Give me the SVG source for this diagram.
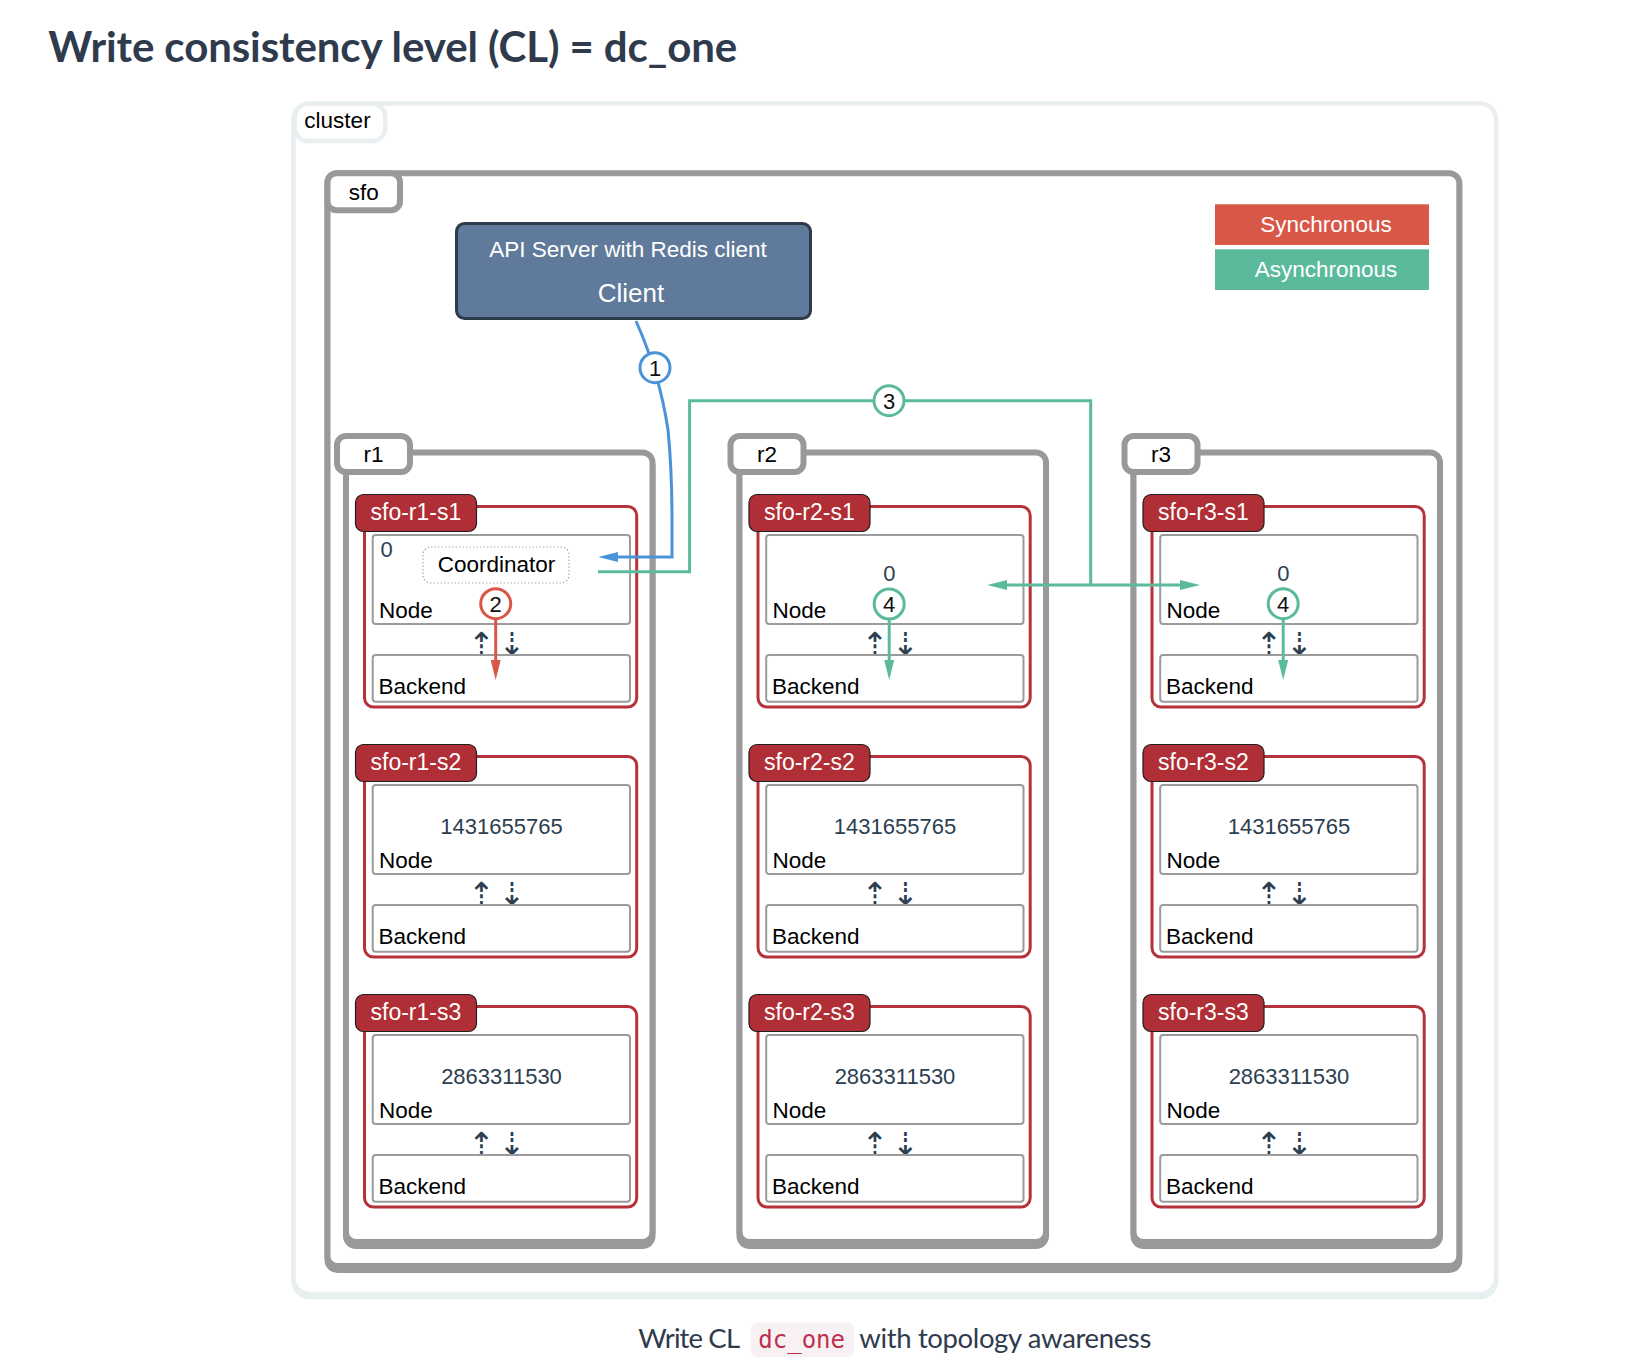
<svg xmlns="http://www.w3.org/2000/svg" width="1646" height="1372" viewBox="0 0 1646 1372">
<defs>
<style>
.title{font-family:Lato,"Liberation Sans",sans-serif;font-weight:bold;font-size:42px;fill:#2f3b4c}
.cap{font-family:Lato,"Liberation Sans",sans-serif;font-size:27.5px;fill:#2f3b4c}
.mono{font-family:"DejaVu Sans Mono","Liberation Mono",monospace;font-size:24px;fill:#bd3050}
.lbl{font-family:"Liberation Sans",Arial,sans-serif;font-size:22.5px;fill:#000}
.num{font-family:"Liberation Sans",Arial,sans-serif;font-size:22px;fill:#2c3e50}
.wt{font-family:"Liberation Sans",Arial,sans-serif;font-size:22.5px;fill:#fff}
.tt{font-family:"Liberation Sans",Arial,sans-serif;font-size:23px;fill:#fff}
.darr{font-family:"DejaVu Sans",sans-serif;font-size:32px;fill:#2c3e50}
.cl{fill:#fff;stroke:#e9eef0;stroke-width:4.5}
.gb{fill:#fff;stroke:#999;stroke-width:6}
.gs{fill:none;stroke:#999;stroke-width:6}
.sb{fill:#fff;stroke:#b5323a;stroke-width:3}
.st{fill:#b02e35;stroke:#1f1f1f;stroke-width:1.2}
.in{fill:#fff;stroke:#9b9b9b;stroke-width:2}
.blue{fill:none;stroke:#4a93d9;stroke-width:3}
.green{fill:none;stroke:#5bba9c;stroke-width:3}
.red{fill:none;stroke:#d95747;stroke-width:3}
.bdg{fill:#fff;stroke-width:3}
.bt{font-family:"Liberation Sans",Arial,sans-serif;font-size:22px;fill:#111;text-anchor:middle}
</style>
<marker id="ab" markerUnits="userSpaceOnUse" markerWidth="20" markerHeight="10" refX="3" refY="5" orient="auto-start-reverse"><path d="M0,0 L20,5 L0,10 z" fill="#4a93d9"/></marker>
<marker id="ag" markerUnits="userSpaceOnUse" markerWidth="20" markerHeight="10" refX="3" refY="5" orient="auto-start-reverse"><path d="M0,0 L20,5 L0,10 z" fill="#5bba9c"/></marker>
<marker id="ar" markerUnits="userSpaceOnUse" markerWidth="20" markerHeight="10" refX="3" refY="5" orient="auto-start-reverse"><path d="M0,0 L20,5 L0,10 z" fill="#d95747"/></marker>
</defs>
<rect width="1646" height="1372" fill="#fff"/>
<text class="title" x="48.3" y="61.7" textLength="689" lengthAdjust="spacing">Write consistency level (CL) = dc_one</text>

<g id="cluster">
<rect class="cl" x="293.5" y="106.5" width="1202.5" height="1190.5" rx="16"/>
<rect class="cl" x="293.5" y="103.5" width="1202.5" height="1190.5" rx="16"/>
<rect class="cl" x="294.8" y="104" width="90.5" height="37" rx="13"/>
<text class="lbl" x="337.5" y="128.3" text-anchor="middle">cluster</text>
</g>

<g id="sfo">
<rect class="gs" x="327.5" y="177.3" width="1131.8" height="1092.7" rx="10"/>
<rect class="gb" x="327.5" y="173.3" width="1131.8" height="1092.7" rx="10"/>
<rect class="gb" x="327.5" y="173.3" width="72.5" height="37" rx="9"/>
<text class="lbl" x="363.7" y="200" text-anchor="middle">sfo</text>
</g>

<g id="client">
<rect x="456.5" y="223.5" width="354" height="95" rx="8" fill="#5f7a9b" stroke="#2c3a4b" stroke-width="3"/>
<text class="wt" x="628" y="257.3" text-anchor="middle">API Server with Redis client</text>
<text x="631" y="302.3" text-anchor="middle" font-family="Liberation Sans, Arial, sans-serif" font-size="26" fill="#fff">Client</text>
</g>

<g id="legend">
<rect x="1215" y="204.3" width="214" height="40.7" fill="#d95747"/>
<text class="wt" x="1326" y="231.7" text-anchor="middle">Synchronous</text>
<rect x="1215" y="249.3" width="214" height="40.7" fill="#5bba9c"/>
<text class="wt" x="1326" y="276.7" text-anchor="middle">Asynchronous</text>
</g>

<g id="r1">
<rect class="gs" x="346" y="456.5" width="306.5" height="789.5" rx="10"/>
<rect class="gb" x="346" y="452.5" width="306.5" height="789.5" rx="10"/>
<rect class="gb" x="337" y="436" width="73" height="36" rx="9"/>
<text class="lbl" x="373.5" y="461.7" text-anchor="middle">r1</text>
</g>
<g id="r2" transform="translate(393.5,0)">
<rect class="gs" x="346" y="456.5" width="306.5" height="789.5" rx="10"/>
<rect class="gb" x="346" y="452.5" width="306.5" height="789.5" rx="10"/>
<rect class="gb" x="337" y="436" width="73" height="36" rx="9"/>
<text class="lbl" x="373.5" y="461.7" text-anchor="middle">r2</text>
</g>
<g id="r3" transform="translate(787.5,0)">
<rect class="gs" x="346" y="456.5" width="306.5" height="789.5" rx="10"/>
<rect class="gb" x="346" y="452.5" width="306.5" height="789.5" rx="10"/>
<rect class="gb" x="337" y="436" width="73" height="36" rx="9"/>
<text class="lbl" x="373.5" y="461.7" text-anchor="middle">r3</text>
</g>

<g id="sfo-r1-s1">
<rect class="sb" x="364.5" y="506.5" width="272.2" height="200.5" rx="9"/>
<rect class="st" x="355.5" y="494.5" width="121" height="37" rx="8"/>
<text class="tt" x="370.5" y="519.5">sfo-r1-s1</text>
<rect class="in" x="372.7" y="535" width="257.3" height="89" rx="3"/>
<text class="num" x="380.5" y="557.3">0</text>
<rect x="423" y="547" width="146" height="36" rx="8" fill="#fff" stroke="#aaa" stroke-width="1.2" stroke-dasharray="1.5 2"/>
<text class="lbl" x="496.5" y="571.7" text-anchor="middle">Coordinator</text>
<text class="lbl" x="379" y="617.5">Node</text>
<text class="darr" x="481.5" y="655" text-anchor="middle">⇡</text>
<text class="darr" x="512" y="655" text-anchor="middle">⇣</text>
<rect class="in" x="372.7" y="655" width="257.3" height="46.7" rx="3"/>
<text class="lbl" x="378.5" y="693.5">Backend</text>
</g>
<g id="sfo-r1-s2" transform="translate(0,250)">
<rect class="sb" x="364.5" y="506.5" width="272.2" height="200.5" rx="9"/>
<rect class="st" x="355.5" y="494.5" width="121" height="37" rx="8"/>
<text class="tt" x="370.5" y="519.5">sfo-r1-s2</text>
<rect class="in" x="372.7" y="535" width="257.3" height="89" rx="3"/>
<text class="num" x="501.5" y="583.5" text-anchor="middle">1431655765</text>
<text class="lbl" x="379" y="617.5">Node</text>
<text class="darr" x="481.5" y="655" text-anchor="middle">⇡</text>
<text class="darr" x="512" y="655" text-anchor="middle">⇣</text>
<rect class="in" x="372.7" y="655" width="257.3" height="46.7" rx="3"/>
<text class="lbl" x="378.5" y="693.5">Backend</text>
</g>
<g id="sfo-r1-s3" transform="translate(0,500)">
<rect class="sb" x="364.5" y="506.5" width="272.2" height="200.5" rx="9"/>
<rect class="st" x="355.5" y="494.5" width="121" height="37" rx="8"/>
<text class="tt" x="370.5" y="519.5">sfo-r1-s3</text>
<rect class="in" x="372.7" y="535" width="257.3" height="89" rx="3"/>
<text class="num" x="501.5" y="583.5" text-anchor="middle">2863311530</text>
<text class="lbl" x="379" y="617.5">Node</text>
<text class="darr" x="481.5" y="655" text-anchor="middle">⇡</text>
<text class="darr" x="512" y="655" text-anchor="middle">⇣</text>
<rect class="in" x="372.7" y="655" width="257.3" height="46.7" rx="3"/>
<text class="lbl" x="378.5" y="693.5">Backend</text>
</g>

<g id="sfo-r2-s1" transform="translate(393.5,0)">
<rect class="sb" x="364.5" y="506.5" width="272.2" height="200.5" rx="9"/>
<rect class="st" x="355.5" y="494.5" width="121" height="37" rx="8"/>
<text class="tt" x="370.5" y="519.5">sfo-r2-s1</text>
<rect class="in" x="372.7" y="535" width="257.3" height="89" rx="3"/>
<text class="num" x="495.8" y="580.7" text-anchor="middle">0</text>
<text class="lbl" x="379" y="617.5">Node</text>
<text class="darr" x="481.5" y="655" text-anchor="middle">⇡</text>
<text class="darr" x="512" y="655" text-anchor="middle">⇣</text>
<rect class="in" x="372.7" y="655" width="257.3" height="46.7" rx="3"/>
<text class="lbl" x="378.5" y="693.5">Backend</text>
</g>
<g id="sfo-r2-s2" transform="translate(393.5,250)">
<rect class="sb" x="364.5" y="506.5" width="272.2" height="200.5" rx="9"/>
<rect class="st" x="355.5" y="494.5" width="121" height="37" rx="8"/>
<text class="tt" x="370.5" y="519.5">sfo-r2-s2</text>
<rect class="in" x="372.7" y="535" width="257.3" height="89" rx="3"/>
<text class="num" x="501.5" y="583.5" text-anchor="middle">1431655765</text>
<text class="lbl" x="379" y="617.5">Node</text>
<text class="darr" x="481.5" y="655" text-anchor="middle">⇡</text>
<text class="darr" x="512" y="655" text-anchor="middle">⇣</text>
<rect class="in" x="372.7" y="655" width="257.3" height="46.7" rx="3"/>
<text class="lbl" x="378.5" y="693.5">Backend</text>
</g>
<g id="sfo-r2-s3" transform="translate(393.5,500)">
<rect class="sb" x="364.5" y="506.5" width="272.2" height="200.5" rx="9"/>
<rect class="st" x="355.5" y="494.5" width="121" height="37" rx="8"/>
<text class="tt" x="370.5" y="519.5">sfo-r2-s3</text>
<rect class="in" x="372.7" y="535" width="257.3" height="89" rx="3"/>
<text class="num" x="501.5" y="583.5" text-anchor="middle">2863311530</text>
<text class="lbl" x="379" y="617.5">Node</text>
<text class="darr" x="481.5" y="655" text-anchor="middle">⇡</text>
<text class="darr" x="512" y="655" text-anchor="middle">⇣</text>
<rect class="in" x="372.7" y="655" width="257.3" height="46.7" rx="3"/>
<text class="lbl" x="378.5" y="693.5">Backend</text>
</g>

<g id="sfo-r3-s1" transform="translate(787.5,0)">
<rect class="sb" x="364.5" y="506.5" width="272.2" height="200.5" rx="9"/>
<rect class="st" x="355.5" y="494.5" width="121" height="37" rx="8"/>
<text class="tt" x="370.5" y="519.5">sfo-r3-s1</text>
<rect class="in" x="372.7" y="535" width="257.3" height="89" rx="3"/>
<text class="num" x="495.8" y="580.7" text-anchor="middle">0</text>
<text class="lbl" x="379" y="617.5">Node</text>
<text class="darr" x="481.5" y="655" text-anchor="middle">⇡</text>
<text class="darr" x="512" y="655" text-anchor="middle">⇣</text>
<rect class="in" x="372.7" y="655" width="257.3" height="46.7" rx="3"/>
<text class="lbl" x="378.5" y="693.5">Backend</text>
</g>
<g id="sfo-r3-s2" transform="translate(787.5,250)">
<rect class="sb" x="364.5" y="506.5" width="272.2" height="200.5" rx="9"/>
<rect class="st" x="355.5" y="494.5" width="121" height="37" rx="8"/>
<text class="tt" x="370.5" y="519.5">sfo-r3-s2</text>
<rect class="in" x="372.7" y="535" width="257.3" height="89" rx="3"/>
<text class="num" x="501.5" y="583.5" text-anchor="middle">1431655765</text>
<text class="lbl" x="379" y="617.5">Node</text>
<text class="darr" x="481.5" y="655" text-anchor="middle">⇡</text>
<text class="darr" x="512" y="655" text-anchor="middle">⇣</text>
<rect class="in" x="372.7" y="655" width="257.3" height="46.7" rx="3"/>
<text class="lbl" x="378.5" y="693.5">Backend</text>
</g>
<g id="sfo-r3-s3" transform="translate(787.5,500)">
<rect class="sb" x="364.5" y="506.5" width="272.2" height="200.5" rx="9"/>
<rect class="st" x="355.5" y="494.5" width="121" height="37" rx="8"/>
<text class="tt" x="370.5" y="519.5">sfo-r3-s3</text>
<rect class="in" x="372.7" y="535" width="257.3" height="89" rx="3"/>
<text class="num" x="501.5" y="583.5" text-anchor="middle">2863311530</text>
<text class="lbl" x="379" y="617.5">Node</text>
<text class="darr" x="481.5" y="655" text-anchor="middle">⇡</text>
<text class="darr" x="512" y="655" text-anchor="middle">⇣</text>
<rect class="in" x="372.7" y="655" width="257.3" height="46.7" rx="3"/>
<text class="lbl" x="378.5" y="693.5">Backend</text>
</g>

<g id="connectors">
<path class="blue" d="M636,321 Q660,375 668,430 Q672,470 672,520 L672,557 L615.3,557" marker-end="url(#ab)"/>
<path class="green" d="M598,571.7 L689.6,571.7 L689.6,400.7 L1090.7,400.7 L1090.7,585"/>
<path class="green" d="M1004.3,585 L1183,585" marker-start="url(#ag)" marker-end="url(#ag)"/>
<path class="red" d="M495.7,619 L495.7,663" marker-end="url(#ar)"/>
<path class="green" d="M889.2,619 L889.2,663" marker-end="url(#ag)"/>
<path class="green" d="M1283.2,619 L1283.2,663" marker-end="url(#ag)"/>
<circle class="bdg" cx="655" cy="367.7" r="15" stroke="#4a93d9"/>
<text class="bt" x="655" y="375.5">1</text>
<circle class="bdg" cx="889" cy="400.7" r="15" stroke="#5bba9c"/>
<text class="bt" x="889" y="408.5">3</text>
<circle class="bdg" cx="495.7" cy="603.7" r="15" stroke="#d95747"/>
<text class="bt" x="495.7" y="611.5">2</text>
<circle class="bdg" cx="889.2" cy="604" r="15" stroke="#5bba9c"/>
<text class="bt" x="889.2" y="611.8">4</text>
<circle class="bdg" cx="1283.2" cy="603.7" r="15" stroke="#5bba9c"/>
<text class="bt" x="1283.2" y="611.5">4</text>
</g>

<g id="caption">
<text class="cap" x="638.3" y="1348.3" textLength="101.7" lengthAdjust="spacing">Write CL</text>
<rect x="750.7" y="1322.3" width="103.3" height="35" rx="7" fill="#f8f1f3"/>
<text class="mono" x="758.3" y="1348.3">dc_one</text>
<text class="cap" x="859.3" y="1348.3" textLength="292" lengthAdjust="spacing">with topology awareness</text>
</g>
</svg>
